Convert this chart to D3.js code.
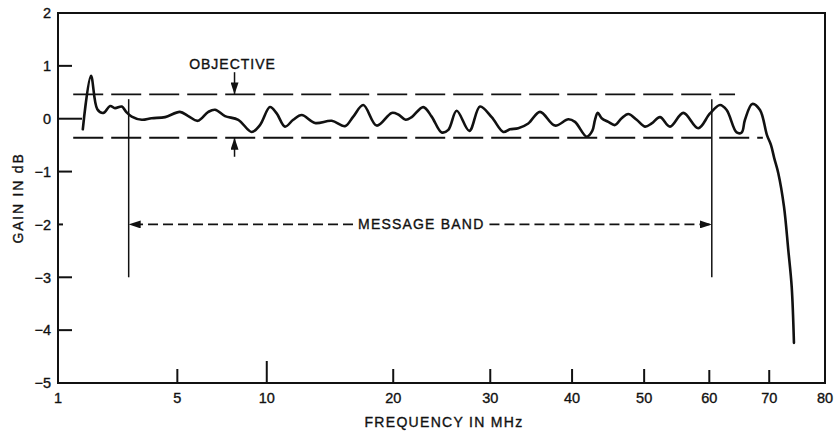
<!DOCTYPE html>
<html>
<head>
<meta charset="utf-8">
<script src="https://cdn.jsdelivr.net/npm/d3@7"></script>
<style>
  html, body { margin: 0; padding: 0; background: #fff; }
  svg { display: block; }
  text { font-family: "Liberation Sans", Arial, Helvetica, sans-serif; fill: #111; stroke: #111; stroke-width: 0.35px; }
</style>
</head>
<body>
<svg id="chart" width="838" height="431"></svg>
<script>
// ---- data (frequency in MHz, gain in dB) ----
const freqMHz = [1.58, 1.80, 1.98, 2.16, 2.37, 2.53, 2.76, 2.91, 3.11, 3.49, 3.88, 4.45, 5.12, 5.52, 5.99,
  6.54, 6.90, 7.45, 8.22, 9.04, 9.56, 10.21, 10.66, 11.23, 11.81, 12.42, 13.41, 14.71, 15.78, 16.47,
  17.32, 18.50, 19.86, 20.47, 21.17, 21.75, 22.88, 23.72, 24.74, 25.43, 26.31, 27.67, 28.85, 30.16,
  31.50, 32.28, 33.26, 34.47, 35.91, 37.79, 39.51, 40.38, 41.94, 42.69, 43.06, 43.43, 43.97, 44.89,
  45.82, 46.76, 47.70, 48.91, 50.12, 51.11, 52.35, 53.86, 55.90, 58.24, 60.11, 61.73, 62.82, 64.47,
  65.31, 65.86, 67.09, 68.41, 69.61, 70.31, 70.88, 71.58, 72.58, 73.34, 73.95, 74.35];
const gainDb = [-0.20, 0.81, 0.18, 0.11, 0.24, 0.20, 0.23, 0.13, 0.04, -0.02, 0.01, 0.03, 0.13, 0.05, -0.04,
  0.13, 0.17, 0.05, -0.02, -0.25, -0.12, 0.22, 0.10, -0.15, -0.02, 0.07, -0.08, -0.04, -0.14, 0.04,
  0.26, -0.13, 0.11, 0.08, -0.02, 0.03, 0.22, 0.04, -0.26, -0.21, 0.15, -0.23, 0.23, 0.03,
  -0.25, -0.20, -0.18, -0.09, 0.13, -0.13, -0.01, -0.06, -0.34, -0.23, -0.02, 0.11, 0.01, -0.06,
  -0.12, 0.01, 0.09, -0.02, -0.15, -0.09, 0.03, -0.15, 0.11, -0.18, 0.10, 0.26, 0.165, -0.26,
  -0.26, -0.02, 0.28, 0.165, -0.31, -0.50, -0.75, -1.03, -1.66, -2.48, -3.18, -4.24];

// objective limits (dB) and their frequency spans (MHz)
const objectiveUpper = [0.46, 1.34, 64.2];   // [gain, fromMHz, toMHz]
const objectiveLower = [-0.36, 1.34, 68.9];
const objectiveArrowMHz = 8.0;
// message band edges (MHz), marker height and arrow level (dB)
const messageBand = [3.0, 60.4];
const messageBandTop = 0.37, messageBandBottom = -3.0, messageBandLevel = -2;

// axes
const xTicks = [1, 5, 10, 20, 30, 40, 50, 60, 70, 80];
const yTicks = [2, 1, 0, -1, -2, -3, -4, -5];
const xTitle = "FREQUENCY IN MHz";
const yTitle = "GAIN IN dB";

// ---- drawing ----
const svg = d3.select("#chart");
const x = d3.scaleSqrt().domain([1, 80]).range([58, 825]);
const y = d3.scaleLinear().domain([2, -5]).range([13, 383]);
const ink = "#111";

// arrowhead marker
const defs = svg.append("defs");
defs.append("marker").attr("id", "ah").attr("viewBox", "0 0 12 8")
  .attr("refX", 12).attr("refY", 4).attr("markerWidth", 12).attr("markerHeight", 8)
  .attr("markerUnits", "userSpaceOnUse").attr("orient", "auto")
  .append("path").attr("d", "M0,0 L12,4 L0,8 Z").attr("fill", ink);

// frame
svg.append("rect").attr("x", x(1)).attr("y", y(2))
  .attr("width", x(80) - x(1)).attr("height", y(-5) - y(2))
  .attr("fill", "none").attr("stroke", ink).attr("stroke-width", 2);

// y ticks (inward)
const yTickLen = { 1: 14, 0: 24, "-1": 14, "-2": 5, "-3": 14, "-4": 14 };
svg.append("g").selectAll("line").data(yTicks.filter(d => yTickLen[d] !== undefined)).join("line")
  .attr("x1", x(1)).attr("x2", d => x(1) + yTickLen[d])
  .attr("y1", d => y(d)).attr("y2", d => y(d))
  .attr("stroke", ink).attr("stroke-width", 2);
svg.append("g").selectAll("text").data(yTicks).join("text")
  .attr("x", 51).attr("y", d => y(d)).attr("dy", "0.36em")
  .attr("text-anchor", "end").attr("font-size", 14.5)
  .text(d => d < 0 ? "\u2212" + Math.abs(d) : d);

// x ticks (inward, upward)
const xTickLen = { 5: 14, 10: 22, 20: 14, 30: 14, 40: 14, 50: 14, 60: 13, 70: 13 };
svg.append("g").selectAll("line").data(xTicks.filter(d => xTickLen[d] !== undefined)).join("line")
  .attr("x1", d => x(d)).attr("x2", d => x(d))
  .attr("y1", y(-5)).attr("y2", d => y(-5) - xTickLen[d])
  .attr("stroke", ink).attr("stroke-width", 2);
svg.append("g").selectAll("text").data(xTicks).join("text")
  .attr("x", d => x(d)).attr("y", 403)
  .attr("text-anchor", "middle").attr("font-size", 14.5)
  .text(d => d);

// axis titles
svg.append("text").attr("x", 444).attr("y", 427).attr("text-anchor", "middle")
  .attr("font-size", 14).attr("letter-spacing", 1.3).text(xTitle);
svg.append("text").attr("transform", `translate(23,${y(-1.5)}) rotate(-90)`)
  .attr("text-anchor", "middle").attr("font-size", 14).attr("letter-spacing", 1.8).text(yTitle);

// objective dashed limits
[objectiveUpper, objectiveLower].forEach(o => {
  svg.append("line").attr("x1", x(o[1])).attr("x2", x(o[2]))
    .attr("y1", y(o[0])).attr("y2", y(o[0]))
    .attr("stroke", ink).attr("stroke-width", 1.8).attr("stroke-dasharray", "30,8");
});
svg.append("text").attr("x", x(objectiveArrowMHz) - 2).attr("y", y(0.95))
  .attr("text-anchor", "middle").attr("font-size", 14).attr("letter-spacing", 1).text("OBJECTIVE");
svg.append("line").attr("x1", x(objectiveArrowMHz)).attr("x2", x(objectiveArrowMHz))
  .attr("y1", y(0.88)).attr("y2", y(objectiveUpper[0]))
  .attr("stroke", ink).attr("stroke-width", 1.5).attr("marker-end", "url(#ah)");
svg.append("line").attr("x1", x(objectiveArrowMHz)).attr("x2", x(objectiveArrowMHz))
  .attr("y1", y(-0.72)).attr("y2", y(objectiveLower[0]))
  .attr("stroke", ink).attr("stroke-width", 1.5).attr("marker-end", "url(#ah)");

// message band
messageBand.forEach(f => {
  svg.append("line").attr("x1", x(f)).attr("x2", x(f))
    .attr("y1", y(messageBandTop)).attr("y2", y(messageBandBottom))
    .attr("stroke", ink).attr("stroke-width", 1.5);
});
const mbMid = (x(messageBand[0]) + x(messageBand[1])) / 2 + 1;
const mbLabel = svg.append("text").attr("x", mbMid).attr("y", y(messageBandLevel)).attr("dy", "0.36em")
  .attr("text-anchor", "middle").attr("font-size", 14).attr("letter-spacing", 1.2).text("MESSAGE BAND");
const bb = mbLabel.node().getBBox();
svg.append("line").attr("x1", bb.x - 5).attr("x2", x(messageBand[0]))
  .attr("y1", y(messageBandLevel)).attr("y2", y(messageBandLevel))
  .attr("stroke", ink).attr("stroke-width", 1.8).attr("stroke-dasharray", "10,5").attr("marker-end", "url(#ah)");
svg.append("line").attr("x1", bb.x + bb.width + 5).attr("x2", x(messageBand[1]))
  .attr("y1", y(messageBandLevel)).attr("y2", y(messageBandLevel))
  .attr("stroke", ink).attr("stroke-width", 1.8).attr("stroke-dasharray", "10,5").attr("marker-end", "url(#ah)");

// gain curve
const pts = freqMHz.map((f, i) => [f, gainDb[i]]);
svg.append("path").datum(pts)
  .attr("d", d3.line().x(d => x(d[0])).y(d => y(d[1])).curve(d3.curveCatmullRom.alpha(0.5)))
  .attr("fill", "none").attr("stroke", ink).attr("stroke-width", 2.6)
  .attr("stroke-linejoin", "round").attr("stroke-linecap", "round");
</script>
</body>
</html>
